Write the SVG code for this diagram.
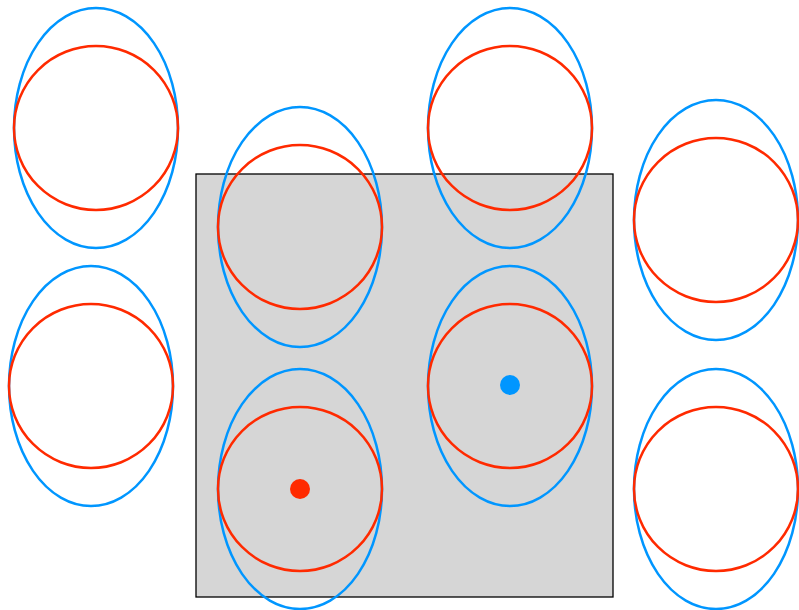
<svg xmlns="http://www.w3.org/2000/svg" width="799" height="610" viewBox="0 0 799 610">
<style>
.bg{fill:#ffffff}
.box{fill:#d6d6d6;stroke:#000000;stroke-width:1.3}
.e{fill:none;stroke:#0096ff;stroke-width:2.5}
.c{fill:none;stroke:#ff2a00;stroke-width:2.5}
</style>
<rect class="bg" x="0" y="0" width="799" height="610"/>
<rect class="box" x="196" y="174" width="417" height="423"/>
<g id="p1"><ellipse class="e" cx="96" cy="128" rx="82" ry="120"/><circle class="c" cx="96" cy="128" r="82"/></g>
<g id="p2"><ellipse class="e" cx="91" cy="386" rx="82" ry="120"/><circle class="c" cx="91" cy="386" r="82"/></g>
<g id="p3"><ellipse class="e" cx="300" cy="227" rx="82" ry="120"/><circle class="c" cx="300" cy="227" r="82"/></g>
<g id="p4"><ellipse class="e" cx="300" cy="489" rx="82" ry="120"/><circle class="c" cx="300" cy="489" r="82"/><circle cx="300" cy="489" r="10" fill="#ff2a00"/></g>
<g id="p5"><ellipse class="e" cx="510" cy="128" rx="82" ry="120"/><circle class="c" cx="510" cy="128" r="82"/></g>
<g id="p6"><ellipse class="e" cx="510" cy="386" rx="82" ry="120"/><circle class="c" cx="510" cy="386" r="82"/><circle cx="510" cy="385" r="10" fill="#0096ff"/></g>
<g id="p7"><ellipse class="e" cx="716" cy="220" rx="82" ry="120"/><circle class="c" cx="716" cy="220" r="82"/></g>
<g id="p8"><ellipse class="e" cx="716" cy="489" rx="82" ry="120"/><circle class="c" cx="716" cy="489" r="82"/></g>
</svg>
